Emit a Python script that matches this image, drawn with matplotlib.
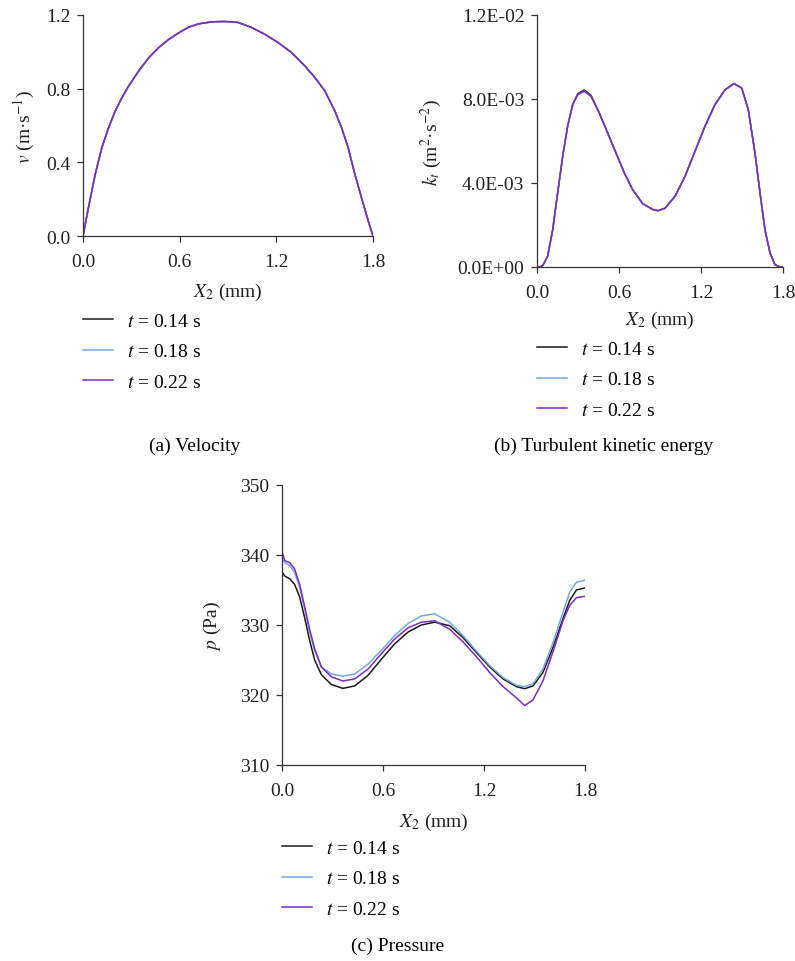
import matplotlib
matplotlib.use("Agg")
import matplotlib.pyplot as plt
from matplotlib.ticker import FixedLocator

plt.rcParams['font.family'] = ['Liberation Serif', 'DejaVu Serif']
plt.rcParams['mathtext.fontset'] = 'stix'
plt.rcParams['font.size'] = 14

# series labels and colours
labels = ['$t$ = 0.14 s', '$t$ = 0.18 s', '$t$ = 0.22 s']
colors = ['#1a1a1a', '#74a9dc', '#7b2cbf']

# (a) velocity, m/s  (the three times overlap)
vel_x = [0, 0.033, 0.075, 0.116, 0.158, 0.199, 0.241, 0.282, 0.345, 0.407, 0.469,
         0.531, 0.594, 0.656, 0.718, 0.801, 0.878, 0.961, 1.044, 1.127, 1.210,
         1.293, 1.376, 1.439, 1.501, 1.563, 1.605, 1.646, 1.688, 1.729, 1.771, 1.8]
vel_014 = [0, 0.151, 0.332, 0.477, 0.586, 0.677, 0.750, 0.813, 0.895, 0.967, 1.022,
           1.067, 1.103, 1.134, 1.152, 1.163, 1.165, 1.160, 1.133, 1.096, 1.051,
           0.997, 0.924, 0.861, 0.788, 0.679, 0.588, 0.479, 0.334, 0.207, 0.080, 0]
vel_018 = list(vel_014)
vel_022 = list(vel_014)

# (b) turbulent kinetic energy, m2/s2
tke_x = [0, 0.02, 0.041, 0.078, 0.115, 0.151, 0.188, 0.224, 0.261, 0.298, 0.346,
         0.395, 0.456, 0.517, 0.578, 0.639, 0.700, 0.773, 0.846, 0.885, 0.937,
         1.010, 1.083, 1.156, 1.229, 1.302, 1.376, 1.441, 1.498, 1.546, 1.595,
         1.632, 1.668, 1.705, 1.741, 1.778, 1.8]
tke_018 = [0, 0.0, 0.06e-3, 0.51e-3, 1.78e-3, 3.52e-3, 5.27e-3, 6.70e-3, 7.73e-3,
           8.21e-3, 8.37e-3, 8.13e-3, 7.33e-3, 6.38e-3, 5.43e-3, 4.48e-3, 3.68e-3,
           3.02e-3, 2.74e-3, 2.68e-3, 2.80e-3, 3.37e-3, 4.32e-3, 5.51e-3, 6.70e-3,
           7.73e-3, 8.44e-3, 8.73e-3, 8.52e-3, 7.49e-3, 5.43e-3, 3.52e-3, 1.78e-3,
           0.67e-3, 0.11e-3, 0.0, 0.0]
tke_022 = list(tke_018)
tke_014 = list(tke_018)
tke_014[9:12] = [8.25e-3, 8.43e-3, 8.18e-3]

# (c) pressure, Pa
pre_x = [0.0, 0.016, 0.046, 0.075, 0.105, 0.135, 0.164, 0.194, 0.234, 0.293, 0.362,
         0.432, 0.511, 0.590, 0.669, 0.749, 0.828, 0.907, 0.996, 1.075, 1.154,
         1.234, 1.313, 1.392, 1.442, 1.491, 1.550, 1.610, 1.669, 1.709, 1.749, 1.800]
pre_014 = [337.6, 337.0, 336.6, 335.8, 334.0, 331.0, 327.8, 325.0, 322.9, 321.5, 320.95,
           321.3, 322.8, 325.1, 327.3, 329.0, 330.0, 330.4, 329.9, 328.2, 326.1,
           324.0, 322.3, 321.2, 320.9, 321.3, 323.2, 326.8, 330.9, 333.5, 335.0, 335.3]
pre_018 = [339.9, 338.9, 338.5, 337.5, 335.4, 332.2, 329.0, 326.3, 324.0, 323.0, 322.7,
           323.0, 324.4, 326.4, 328.5, 330.2, 331.3, 331.6, 330.4, 328.5, 326.3,
           324.2, 322.5, 321.4, 321.2, 321.6, 323.7, 327.5, 331.8, 334.7, 336.1, 336.4]
pre_022 = [340.5, 339.2, 338.9, 338.0, 335.8, 332.6, 329.4, 326.6, 324.0, 322.6, 322.0,
           322.3, 323.7, 325.9, 328.0, 329.6, 330.4, 330.6, 329.4, 327.6, 325.5,
           323.2, 321.2, 319.6, 318.5, 319.3, 322.0, 326.2, 330.6, 332.8, 333.9, 334.1]

x_ticks = [0.0, 0.6, 1.2, 1.8]
x_tick_labels = ['0.0', '0.6', '1.2', '1.8']
vel_ticks = [0.0, 0.4, 0.8, 1.2]
vel_tick_labels = ['0.0', '0.4', '0.8', '1.2']
tke_ticks = [0.0, 4e-3, 8e-3, 1.2e-2]
tke_tick_labels = ['0.0E+00', '4.0E-03', '8.0E-03', '1.2E-02']
pre_ticks = [310, 320, 330, 340, 350]
pre_tick_labels = ['310', '320', '330', '340', '350']

W, H = 795, 962
fig = plt.figure(figsize=(W / 100, H / 100), dpi=100)


def px_axes(left, top, right, bottom):
    return fig.add_axes([left / W, 1 - bottom / H, (right - left) / W, (bottom - top) / H])


def style(ax, yticks, yticklabels, ylim, ylabel, ylab_x, xlab_y):
    for s in ['top', 'right']:
        ax.spines[s].set_visible(False)
    for s in ['left', 'bottom']:
        ax.spines[s].set_color('#333333')
        ax.spines[s].set_linewidth(0.9)
    ax.set_xlim(0, 1.8)
    ax.set_ylim(*ylim)
    ax.xaxis.set_major_locator(FixedLocator(x_ticks))
    ax.set_xticklabels(x_tick_labels)
    ax.yaxis.set_major_locator(FixedLocator(yticks))
    ax.set_yticklabels(yticklabels)
    ax.tick_params(direction='out', length=4, width=0.9, color='#333333',
                   labelsize=14, labelcolor='#222222')
    ax.tick_params(axis='x', pad=8)
    ax.tick_params(axis='y', pad=5)
    ax.set_ylabel(ylabel, fontsize=14, color='#222222')
    ax.yaxis.set_label_coords(ylab_x, 0.5)
    ax.set_xlabel('$X_2$ (mm)', fontsize=14, color='#222222')
    ax.xaxis.set_label_coords(0.5, xlab_y)


def legend(ax, top_px):
    handles = ax.get_lines()
    fig.legend(handles, labels, loc='upper left',
               bbox_to_anchor=(ax.get_position().x0, 1 - top_px / H),
               frameon=False, fontsize=14, handlelength=1.55, handletextpad=0.72,
               labelspacing=0.68, borderpad=0, borderaxespad=0)


# (a)
ax_a = px_axes(83, 16, 373, 237)
for y, c, lab in zip([vel_014, vel_018, vel_022], colors, labels):
    ax_a.plot(vel_x, y, color=c, lw=1.1, label=lab)
style(ax_a, vel_ticks, vel_tick_labels, (0, 1.2), r'$v$ (m·s$^{-1}$)', -0.16, -0.205)
legend(ax_a, 313)
fig.text(195 / W, 1 - 446 / H, '(a) Velocity', ha='center', va='center', fontsize=14)

# (b)
ax_b = px_axes(537, 16, 783, 268)
for y, c, lab in zip([tke_014, tke_018, tke_022], colors, labels):
    ax_b.plot(tke_x, y, color=c, lw=1.1, label=lab)
style(ax_b, tke_ticks, tke_tick_labels, (0, 1.2e-2), r'$k_t$ (m$^2$·s$^{-2}$)', -0.38, -0.165)
legend(ax_b, 341)
fig.text(604 / W, 1 - 446 / H, '(b) Turbulent kinetic energy', ha='center', va='center', fontsize=14)

# (c)
ax_c = px_axes(282, 486, 585, 766)
for y, c, lab in zip([pre_014, pre_018, pre_022], colors, labels):
    ax_c.plot(pre_x, y, color=c, lw=1.1, label=lab)
style(ax_c, pre_ticks, pre_tick_labels, (310, 350), '$p$ (Pa)', -0.195, -0.165)
legend(ax_c, 840)
fig.text(398 / W, 1 - 946 / H, '(c) Pressure', ha='center', va='center', fontsize=14)

fig.savefig('out.png', dpi=100, facecolor='white')
